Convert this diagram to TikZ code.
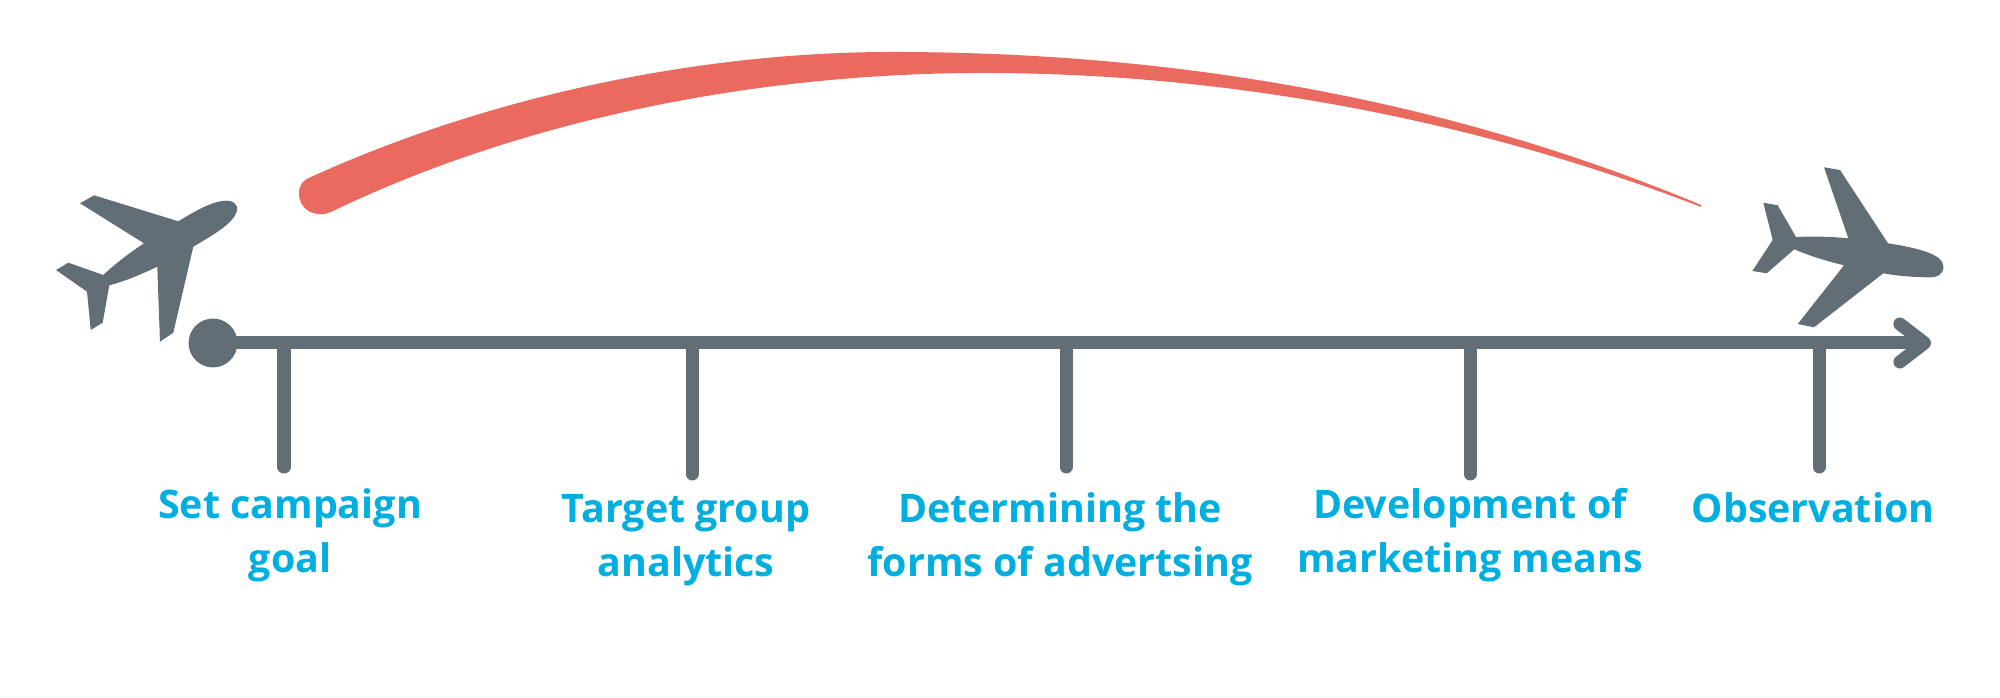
\documentclass[tikz,border=0pt]{standalone}
\usepackage{fontspec}
\setmainfont{Open Sans}
\usetikzlibrary{arrows.meta}
\definecolor{slate}{HTML}{616E76}
\definecolor{coral}{HTML}{EB6A5F}
\definecolor{skyblue}{HTML}{00AEE0}
\tikzset{
	axisline/.style={draw=slate,line width=3.7pt},
	tickline/.style={draw=slate,line width=3.7pt,line cap=round},
	dot/.style={circle,fill=slate,inner sep=0pt,minimum size=13.9pt},
	steplabel/.style={text=skyblue,font=\fontsize{11.2}{15.6}\selectfont\bfseries,align=center,anchor=base}
}
\begin{document}
\begin{tikzpicture}[x=0.01cm,y=-0.01cm]
		\useasboundingbox (0,0) rectangle (2000,698);
		% flight path
		\fill [coral] (311,177) .. controls (480,100) and (690,52) .. (892,52)
			.. controls (1180,52) and (1450,100) .. (1701,205) -- (1701,207)
			.. controls (1450,110) and (1200,73) .. (984,73)
			.. controls (730,73) and (500,130) .. (331,212)
			.. controls (318,218) and (299,212) .. (299,193)
			.. controls (299,185) and (303,180) .. (311,177) -- cycle;
		% planes
		\fill [slate] (178.3,221.3) -- (94,195.3) -- (80,203.3) -- (144,243.3)
			.. controls (128,254) and (115,264) .. (103.3,275)
			-- (68.3,262.7) -- (56,270) -- (87,291.7) -- (90.7,330) -- (102.7,322.7) -- (109.3,285.3)
			.. controls (126,281) and (142,274) .. (157.3,266.7)
			-- (160,341.7) -- (173.3,332.7) -- (193.3,246.7)
			.. controls (213,235) and (233,224) .. (237,211)
			.. controls (238,204) and (233,200.5) .. (226,200.7)
			.. controls (213,201) and (197,210) .. (178.3,221.3) -- cycle;
		\fill [slate] (1848.3,238.3) -- (1824,167.3) -- (1840,170) -- (1888,243.3)
			.. controls (1925,249) and (1943,256) .. (1943.3,266)
			.. controls (1944,274) and (1938,278) .. (1926.7,277.3)
			.. controls (1912,277) and (1897,276) .. (1883.3,273.3)
			-- (1814,327.3) -- (1797.7,324) -- (1844,265.3)
			.. controls (1826,261) and (1810,256) .. (1794.3,249.3)
			-- (1766.7,273.3) -- (1752.3,271) -- (1772.7,240) -- (1763.3,202.7) -- (1777.7,205.3) -- (1796,237)
			.. controls (1815,236) and (1835,237) .. (1848.3,238.3) -- cycle;
		% timeline
		\node (start) [dot] at (213,343) {};
		\coordinate (end) at (1931,343);
		\coordinate (t1) at (284,343);
		\coordinate (t2) at (692,343);
		\coordinate (t3) at (1066,343);
		\coordinate (t4) at (1470,343);
		\coordinate (t5) at (1819,343);
		\coordinate (b1) at (284,467);
		\coordinate (b2) at (692,474);
		\coordinate (b3) at (1066,467);
		\coordinate (b4) at (1470,474);
		\coordinate (b5) at (1819,467);
		\draw [tickline] (t1) -- (b1);
		\draw [tickline] (t2) -- (b2);
		\draw [tickline] (t3) -- (b3);
		\draw [tickline] (t4) -- (b4);
		\draw [tickline] (t5) -- (b5);
		\draw [axisline,-{Straight Barb[length=7pt,width=10.8pt,round]}] (start.center) -- (end);
		% labels
		\node (goal) [steplabel] at (290,573) {Set campaign\\goal};
		\node (group) [steplabel] at (686,577) {Target group\\analytics};
		\node (forms) [steplabel] at (1060,577) {Determining the\\forms of advertsing};
		\node (means) [steplabel] at (1470,573) {Development of\\marketing means};
		\node (watch) [steplabel] at (1813,523) {Observation};
	\end{tikzpicture}
\end{document}
